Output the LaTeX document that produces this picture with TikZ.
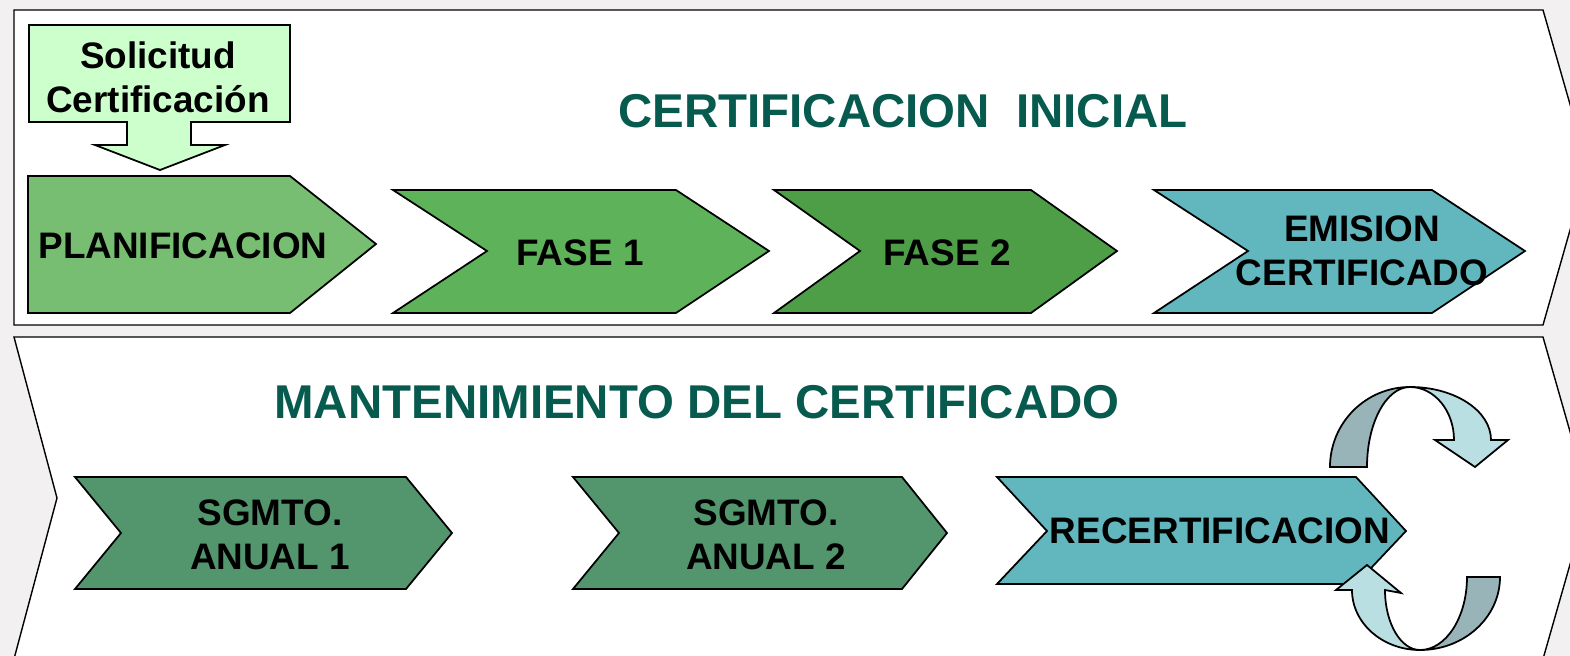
\documentclass[tikz,border=0pt]{standalone}
\usepackage{fontspec}
\setmainfont{Liberation Sans}

\definecolor{bggray}{HTML}{F2F0F0}
\definecolor{solfill}{HTML}{CCFFCC}
\definecolor{planfill}{HTML}{77BD72}
\definecolor{faseonefill}{HTML}{5EB35A}
\definecolor{fasetwofill}{HTML}{4E9E48}
\definecolor{tealfill}{HTML}{62B6BE}
\definecolor{sgmtfill}{HTML}{53966E}
\definecolor{titleteal}{HTML}{075A4E}
\definecolor{ribbondark}{HTML}{98B4B8}
\definecolor{ribbonlight}{HTML}{B9DFE2}

\begin{document}
\begin{tikzpicture}[x=0.02cm, y=-0.02cm]
				\tikzstyle{band}=[draw, line width=0.8pt, fill=white, line join=miter]
				\tikzstyle{stage}=[draw, line width=1pt, line join=miter]
				\tikzstyle{stagetext}=[font=\bfseries\fontsize{21}{25}\selectfont, align=center]
				\tikzstyle{headline}=[font=\bfseries\fontsize{27}{32}\selectfont, text=titleteal]
				\tikzstyle{ribbon}=[draw, line width=1pt, line join=miter]
				\newcommand\YTopMid{251}
				\newcommand\YBotMid{533}

				\useasboundingbox (0,0) rectangle (1570,656);
				\fill [bggray] (0,0) rectangle (1570,656);
				\clip (0,0) rectangle (1570,656);

				% Bands
				\draw [band] (14,10) -- (1543,10) -- (1588,167) -- (1543,325) -- (14,325) -- cycle;
				\draw [band] (14,337) -- (1543,337) -- (1589,498) -- (1543,659) -- (14,659) -- (57,498) -- cycle;

				% Certificacion inicial
				\draw [stage, fill=solfill] (29,25) -- (290,25) -- (290,122) -- (191,122) -- (191,145) -- (225,145)
					-- (160,170) -- (95,145) -- (127,145) -- (127,122) -- (29,122) -- cycle;
				\draw [stage, fill=planfill] (28,176) -- (290,176) -- (376,244) -- (290,313) -- (28,313) -- cycle;
				\draw [stage, fill=faseonefill] (393,190) -- (676,190) -- (769,\YTopMid) -- (676,313) -- (393,313) -- (487,\YTopMid) -- cycle;
				\draw [stage, fill=fasetwofill] (774,190) -- (1031,190) -- (1117,\YTopMid) -- (1031,313) -- (774,313) -- (860,\YTopMid) -- cycle;
				\draw [stage, fill=tealfill] (1154,190) -- (1432,190) -- (1525,\YTopMid) -- (1432,313) -- (1154,313) -- (1248,\YTopMid) -- cycle;

				\node [stagetext] at (158,77) (sol) {Solicitud\\Certificación};
				\node [stagetext] at (183,246) (plan) {PLANIFICACION};
				\node [stagetext] at (580,253) (fase1) {FASE 1};
				\node [stagetext] at (947,253) (fase2) {FASE 2};
				\node [stagetext] at (1362,\YTopMid) (emision) {EMISION\\CERTIFICADO};
				\node [headline] at (903,111) (cini) {CERTIFICACION\ \ INICIAL};

				% Mantenimiento
				\draw [stage, fill=sgmtfill] (75,477) -- (406,477) -- (452,\YBotMid) -- (406,589) -- (75,589) -- (121,\YBotMid) -- cycle;
				\draw [stage, fill=sgmtfill] (573,477) -- (902,477) -- (947,\YBotMid) -- (902,589) -- (573,589) -- (619,\YBotMid) -- cycle;
				\draw [stage, fill=tealfill] (997,477) -- (1356,477) -- (1406,531) -- (1356,584) -- (997,584) -- (1047,531) -- cycle;

				\node [stagetext] at (270,535) (sg1) {SGMTO.\\ANUAL 1};
				\node [stagetext] at (766,535) (sg2) {SGMTO.\\ANUAL 2};
				\node [stagetext] at (1220,531) (recert) {RECERTIFICACION};
				\node [headline] at (697,402) (mant) {MANTENIMIENTO DEL CERTIFICADO};

				% Cycle ribbons
				\draw [ribbon, fill=ribbonlight] (1410,387) arc (270:360:81 and 53) -- (1508,440) -- (1475,467)
					-- (1435,440) -- (1454,440) arc (360:270:44 and 53) -- cycle;
				\draw [ribbon, fill=ribbondark] (1330,467) arc (180:270:80 and 80) arc (270:180:43 and 80) -- cycle;
				\draw [ribbon, fill=ribbonlight] (1420,650) arc (90:180:68 and 60) -- (1336,590) -- (1367,565)
					-- (1401,593) -- (1385,590) arc (180:90:35 and 60) -- cycle;
				\draw [ribbon, fill=ribbondark] (1500,577) arc (0:90:80 and 73) arc (90:0:47 and 73) -- cycle;
			\end{tikzpicture}
\end{document}
